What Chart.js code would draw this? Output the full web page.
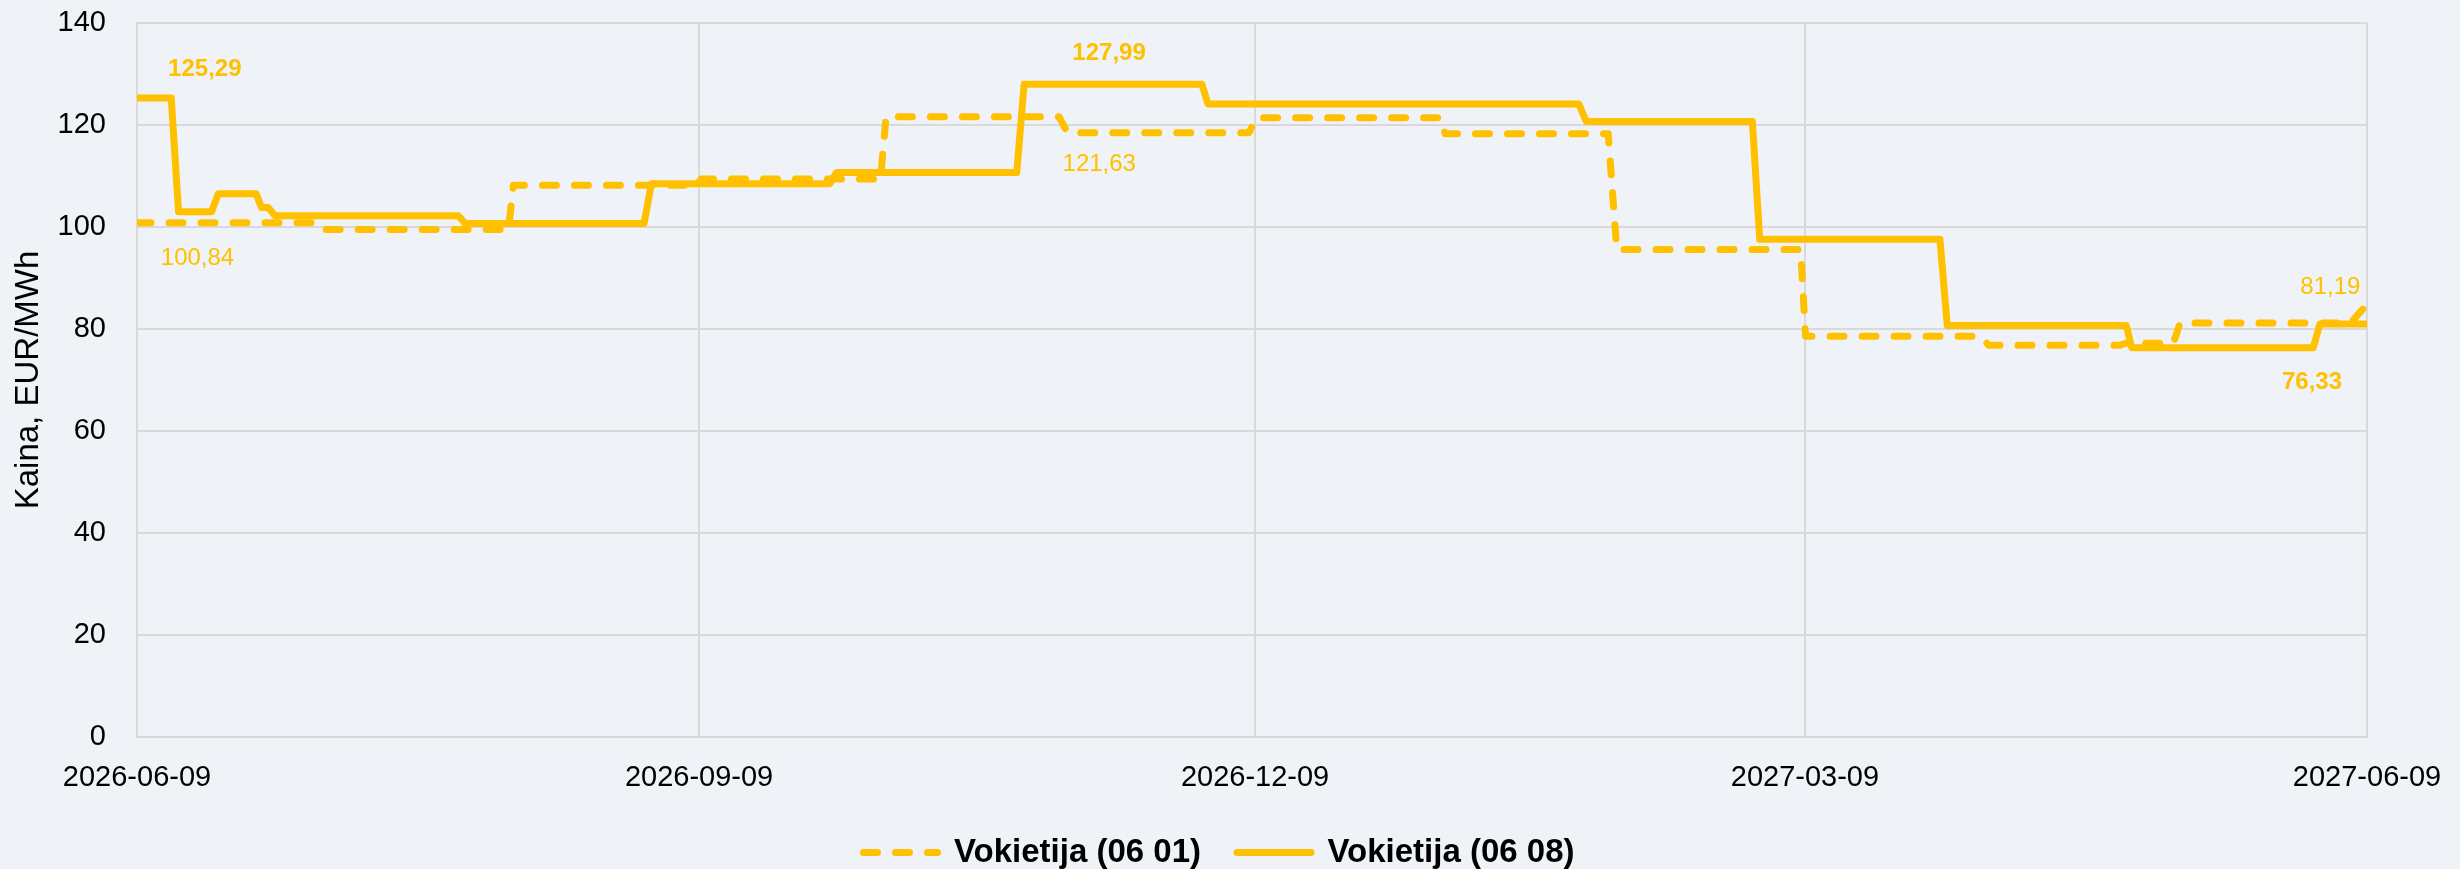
<!DOCTYPE html>
<html lang="lt">
<head>
<meta charset="utf-8">
<title>Vokietija - kainos</title>
<script src="https://cdn.jsdelivr.net/npm/chart.js@4.4.1/dist/chart.umd.min.js"></script>
<style>
  html, body { margin: 0; padding: 0; background: #EFF3F7; }
  #wrap { width: 2460px; height: 869px; position: relative; }
</style>
</head>
<body>
<div id="wrap"><canvas id="kainos"></canvas></div>
<script>
// x ašis: dienos nuo 2026-06-09
const tickDays = [0, 92, 183, 273, 365];
const tickLabels = ['2026-06-09', '2026-09-09', '2026-12-09', '2027-03-09', '2027-06-09'];

const seriesNames = ['Vokietija (06 01)', 'Vokietija (06 08)'];

// Vokietija (06 01) - punktyrinė
const daysA = [0, 29.7, 30.8, 60.8, 61.6, 91.5, 92.3, 121.7, 122.6, 150.9, 152.3, 182.0, 183.2, 213.4, 214.1,
  240.8, 242.2, 272.3, 273.1, 301.7, 303.1, 324.5, 325.5, 333.3, 334.4, 362.3, 364.4];
const pricesA = [100.84, 100.84, 99.5, 99.5, 108.2, 108.2, 109.4, 109.4, 121.63, 121.63, 118.5, 118.5, 121.4, 121.4, 118.3,
  118.3, 95.6, 95.6, 78.6, 78.6, 76.8, 76.8, 77.2, 77.2, 81.19, 81.19, 84.0];

// Vokietija (06 08) - ištisinė
const daysB = [0, 5.6, 6.8, 12.2, 13.3, 19.5, 20.4, 21.5, 22.6, 52.6, 53.7, 83.0, 84.2, 113.4, 114.5,
  144.0, 145.2, 174.3, 175.3, 236.0, 237.2, 264.4, 265.6, 295.1, 296.3, 325.6, 326.5, 356.2, 357.3, 365];
const pricesB = [125.29, 125.29, 103.0, 103.0, 106.5, 106.5, 103.8, 103.8, 102.2, 102.2, 100.7, 100.7, 108.5, 108.5, 110.7,
  110.7, 127.99, 127.99, 124.1, 124.1, 120.7, 120.7, 97.6, 97.6, 80.7, 80.7, 76.33, 76.33, 81.0, 81.0];

// duomenų žymos
const labelValues = [125.29, 100.84, 127.99, 121.63, 81.19, 76.33];
const labelDays = [11.1, 9.9, 159.1, 157.5, 359.0, 356.0];
const labelSeries = [1, 0, 1, 0, 0, 1];
const labelShift = [-29, 36, -31, 48, -36, 35];

const GOLD = '#FFC000';
const GRID = '#D9D9D9';
const FONT = '"Liberation Sans", Arial, sans-serif';
const LINE_W = 7;

Chart.defaults.font.family = FONT;
Chart.defaults.color = '#000';

function toPoints(days, prices) {
    return days.map((d, i) => ({ x: d, y: prices[i] }));
}

function fmt(v) {
    return v.toFixed(2).replace('.', ',');
}

// žymos piešiamos virš linijų
const valueLabels = {
    id: 'valueLabels',
    afterDatasetsDraw(chart) {
        const { ctx, scales: { x, y } } = chart;
        ctx.save();
        ctx.fillStyle = GOLD;
        ctx.textAlign = 'center';
        ctx.textBaseline = 'middle';
        labelValues.forEach((v, i) => {
            ctx.font = (labelSeries[i] === 1 ? 'bold ' : '') + '24px ' + FONT;
            ctx.fillText(fmt(v), x.getPixelForValue(labelDays[i]), y.getPixelForValue(v) + labelShift[i]);
        });
        ctx.restore();
    }
};

// legenda centruojama pagal visą paveikslą, ne pagal paraštes
const legendShift = {
    id: 'legendShift',
    afterLayout(chart) {
        chart.legend.left += 31;
        chart.legend.right += 31;
    }
};

const lineStyle = {
    borderColor: GOLD,
    backgroundColor: GOLD,
    borderWidth: LINE_W,
    borderCapStyle: 'round',
    borderJoinStyle: 'round',
    pointRadius: 0,
    pointHoverRadius: 0,
    tension: 0,
    fill: false
};

new Chart(document.getElementById('kainos'), {
    type: 'line',
    data: {
        datasets: [
            Object.assign({ label: seriesNames[0], data: toPoints(daysA, pricesA), borderDash: [14, 18] }, lineStyle),
            Object.assign({ label: seriesNames[1], data: toPoints(daysB, pricesB) }, lineStyle)
        ]
    },
    options: {
        responsive: true,
        maintainAspectRatio: false,
        animation: false,
        devicePixelRatio: 1,
        events: [],
        layout: { padding: { left: 9, right: 93, top: 23, bottom: -10 } },
        plugins: {
            tooltip: { enabled: false },
            legend: {
                position: 'bottom',
                labels: {
                    usePointStyle: true,
                    pointStyle: 'line',
                    pointStyleWidth: 74,
                    font: { size: 33, weight: 'bold' },
                    color: '#000',
                    padding: 36,
                    // linijos pavyzdys su brūkšniais kaip duomenų linijoje
                    generateLabels: (chart) => Chart.defaults.plugins.legend.labels.generateLabels(chart).map((item, i) => Object.assign(item, {
                        lineDash: chart.data.datasets[i].borderDash || [],
                        lineCap: 'round',
                        lineWidth: LINE_W,
                        strokeStyle: GOLD
                    }))
                }
            }
        },
        scales: {
            x: {
                type: 'linear',
                min: 0,
                max: 365,
                afterBuildTicks: (scale) => {
                    scale.ticks = tickDays.map(v => ({ value: v }));
                },
                afterFit: (scale) => {
                    scale.height = 63;
                    scale.paddingLeft = 0;
                    scale.paddingRight = 0;
                },
                ticks: {
                    callback: (v) => tickLabels[tickDays.indexOf(v)],
                    font: { size: 29 },
                    color: '#000',
                    padding: 24,
                    maxRotation: 0,
                    autoSkip: false
                },
                grid: { color: GRID, lineWidth: 2, drawTicks: false },
                border: { color: GRID, width: 2 }
            },
            y: {
                min: 0,
                max: 140,
                afterFit: (scale) => {
                    scale.width = 128;
                    scale.paddingTop = 0;
                    scale.paddingBottom = 0;
                },
                ticks: { stepSize: 20, font: { size: 29 }, color: '#000', padding: 31 },
                grid: { color: GRID, lineWidth: 2, drawTicks: false },
                border: { color: GRID, width: 2 },
                title: {
                    display: true,
                    text: 'Kaina, EUR/MWh',
                    font: { size: 33 },
                    color: '#000',
                    padding: { top: 0, bottom: 0 }
                }
            }
        }
    },
    plugins: [valueLabels, legendShift]
});
</script>
</body>
</html>
